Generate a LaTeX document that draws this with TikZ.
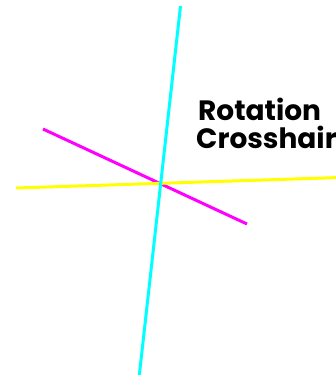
\documentclass[tikz,border=0pt]{standalone}
\usepackage{fontspec}
\setmainfont{Poppins}
\begin{document}
\begin{tikzpicture}[x=1pt,y=-1pt,
  axis/.style={line width=3pt},
  lbl/.style={font=\fontsize{28}{30}\selectfont\bfseries, inner sep=0pt, anchor=base west}]
\useasboundingbox (0,0) rectangle (336,375);
\clip (0,0) rectangle (336,375);
\coordinate (ctop) at (180.5,6);
\coordinate (cbot) at (139,378);
\coordinate (yl) at (16,188);
\coordinate (yr) at (340,177.5);
\coordinate (ml) at (43,129);
\coordinate (mr) at (247,224);
\draw[axis, color={rgb,255:red,255;green,0;blue,255}] (ml) -- (mr);
\draw[axis, color={rgb,255:red,255;green,255;blue,0}] (yl) -- (yr);
\draw[axis, color={rgb,255:red,0;green,255;blue,255}] (ctop) -- (cbot);
\node[lbl] (t1) at (198,120) {Rotation};
\node[lbl] (t2) at (196,148) {Crosshair};
\end{tikzpicture}
\end{document}
